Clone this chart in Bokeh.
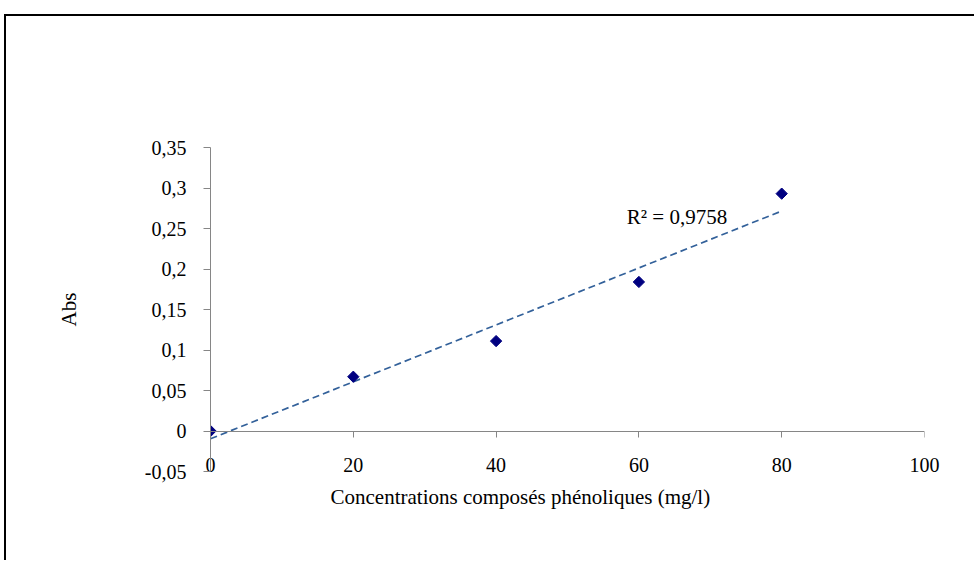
import numpy as np
from bokeh.plotting import figure
from bokeh.models import (Range1d, LinearAxis, FixedTicker, CustomJSTickFormatter,
                          Label, Title, ColumnDataSource)
from bokeh.embed import file_html
from bokeh.resources import INLINE

# ---- data ----
conc = [0, 20, 40, 60, 80]
absorb = [0.0, 0.067, 0.111, 0.184, 0.293]
x_ticks = [0, 20, 40, 60, 80, 100]
y_ticks = [-0.05, 0.0, 0.05, 0.10, 0.15, 0.20, 0.25, 0.30, 0.35]
x_title = "Concentrations composés phénoliques (mg/l)"
y_title = "Abs"
r2_label = "R² = 0,9758"

FONT = "Liberation Serif"
AXIS_COL = "#868686"

# linear trendline (least squares)
slope, intercept = np.polyfit(conc, absorb, 1)
trend_x = [min(conc), max(conc)]
trend_y = [slope * v + intercept for v in trend_x]

W, H = 970, 546
p = figure(width=W, height=H, output_backend="svg", toolbar_location=None,
           x_range=Range1d(0, 100), y_range=Range1d(-0.05, 0.35),
           x_axis_location=None, y_axis_location=None,
           min_border_left=204, min_border_right=52,
           min_border_top=131, min_border_bottom=91,
           background_fill_color="white", border_fill_color="white")
p.outline_line_color = None
p.xgrid.visible = False
p.ygrid.visible = False
p.styles = {"border-top": "2px solid black", "border-left": "2px solid black",
            "position": "relative", "top": "14px", "left": "4px"}

# y axis
yax = LinearAxis(ticker=FixedTicker(ticks=y_ticks))
yax.formatter = CustomJSTickFormatter(code="""
let s = tick.toFixed(2);
s = s.replace(/0+$/, '').replace(/\\.$/, '');
if (s === '-0') s = '0';
return s.replace('.', ',');
""")
yax.axis_line_color = AXIS_COL
yax.major_tick_line_color = AXIS_COL
yax.major_tick_out = 7
yax.major_tick_in = 0
yax.minor_tick_line_color = None
yax.major_label_text_font = FONT
yax.major_label_text_font_size = "20px"
yax.major_label_text_color = "black"
yax.major_label_standoff = 17
yax.axis_label = y_title
yax.axis_label_text_font = FONT
yax.axis_label_text_font_size = "21px"
yax.axis_label_text_font_style = "normal"
yax.axis_label_text_color = "black"
yax.axis_label_standoff = 61
p.add_layout(yax, "left")

# x axis line at y = 0
xline = LinearAxis(ticker=FixedTicker(ticks=x_ticks), fixed_location=0)
xline.axis_line_color = AXIS_COL
xline.major_tick_line_color = AXIS_COL
xline.major_tick_out = 6
xline.major_tick_in = 0
xline.minor_tick_line_color = None
xline.major_label_text_alpha = 0
xline.major_label_text_font_size = "1px"
p.add_layout(xline, "below")

# x tick labels at the bottom
xlab = LinearAxis(ticker=FixedTicker(ticks=x_ticks))
xlab.axis_line_color = None
xlab.major_tick_line_color = None
xlab.major_tick_out = 0
xlab.major_tick_in = 0
xlab.minor_tick_line_color = None
xlab.major_label_text_font = FONT
xlab.major_label_text_font_size = "20px"
xlab.major_label_text_color = "black"
xlab.major_label_standoff = -14
p.add_layout(xlab, "below")

# x title
p.add_layout(Title(text=x_title, align="left", offset=120, text_font=FONT,
                   text_font_size="21px", text_font_style="normal",
                   text_color="black", standoff=16), "below")

# trendline
p.line(trend_x, trend_y, line_color="#33619A", line_width=1.7, line_dash="7 4")

# points
src = ColumnDataSource(dict(x=conc, y=absorb))
p.scatter("x", "y", source=src, marker="square", angle=np.pi / 4, size=8,
          fill_color="#000080", line_color="#000080")

# R² text
p.add_layout(Label(x=58.3, y=0.2648, text=r2_label, text_font=FONT,
                   text_font_size="21px", text_color="black",
                   text_align="left", text_baseline="alphabetic"))

open("out.html", "w").write(file_html(p, INLINE))
